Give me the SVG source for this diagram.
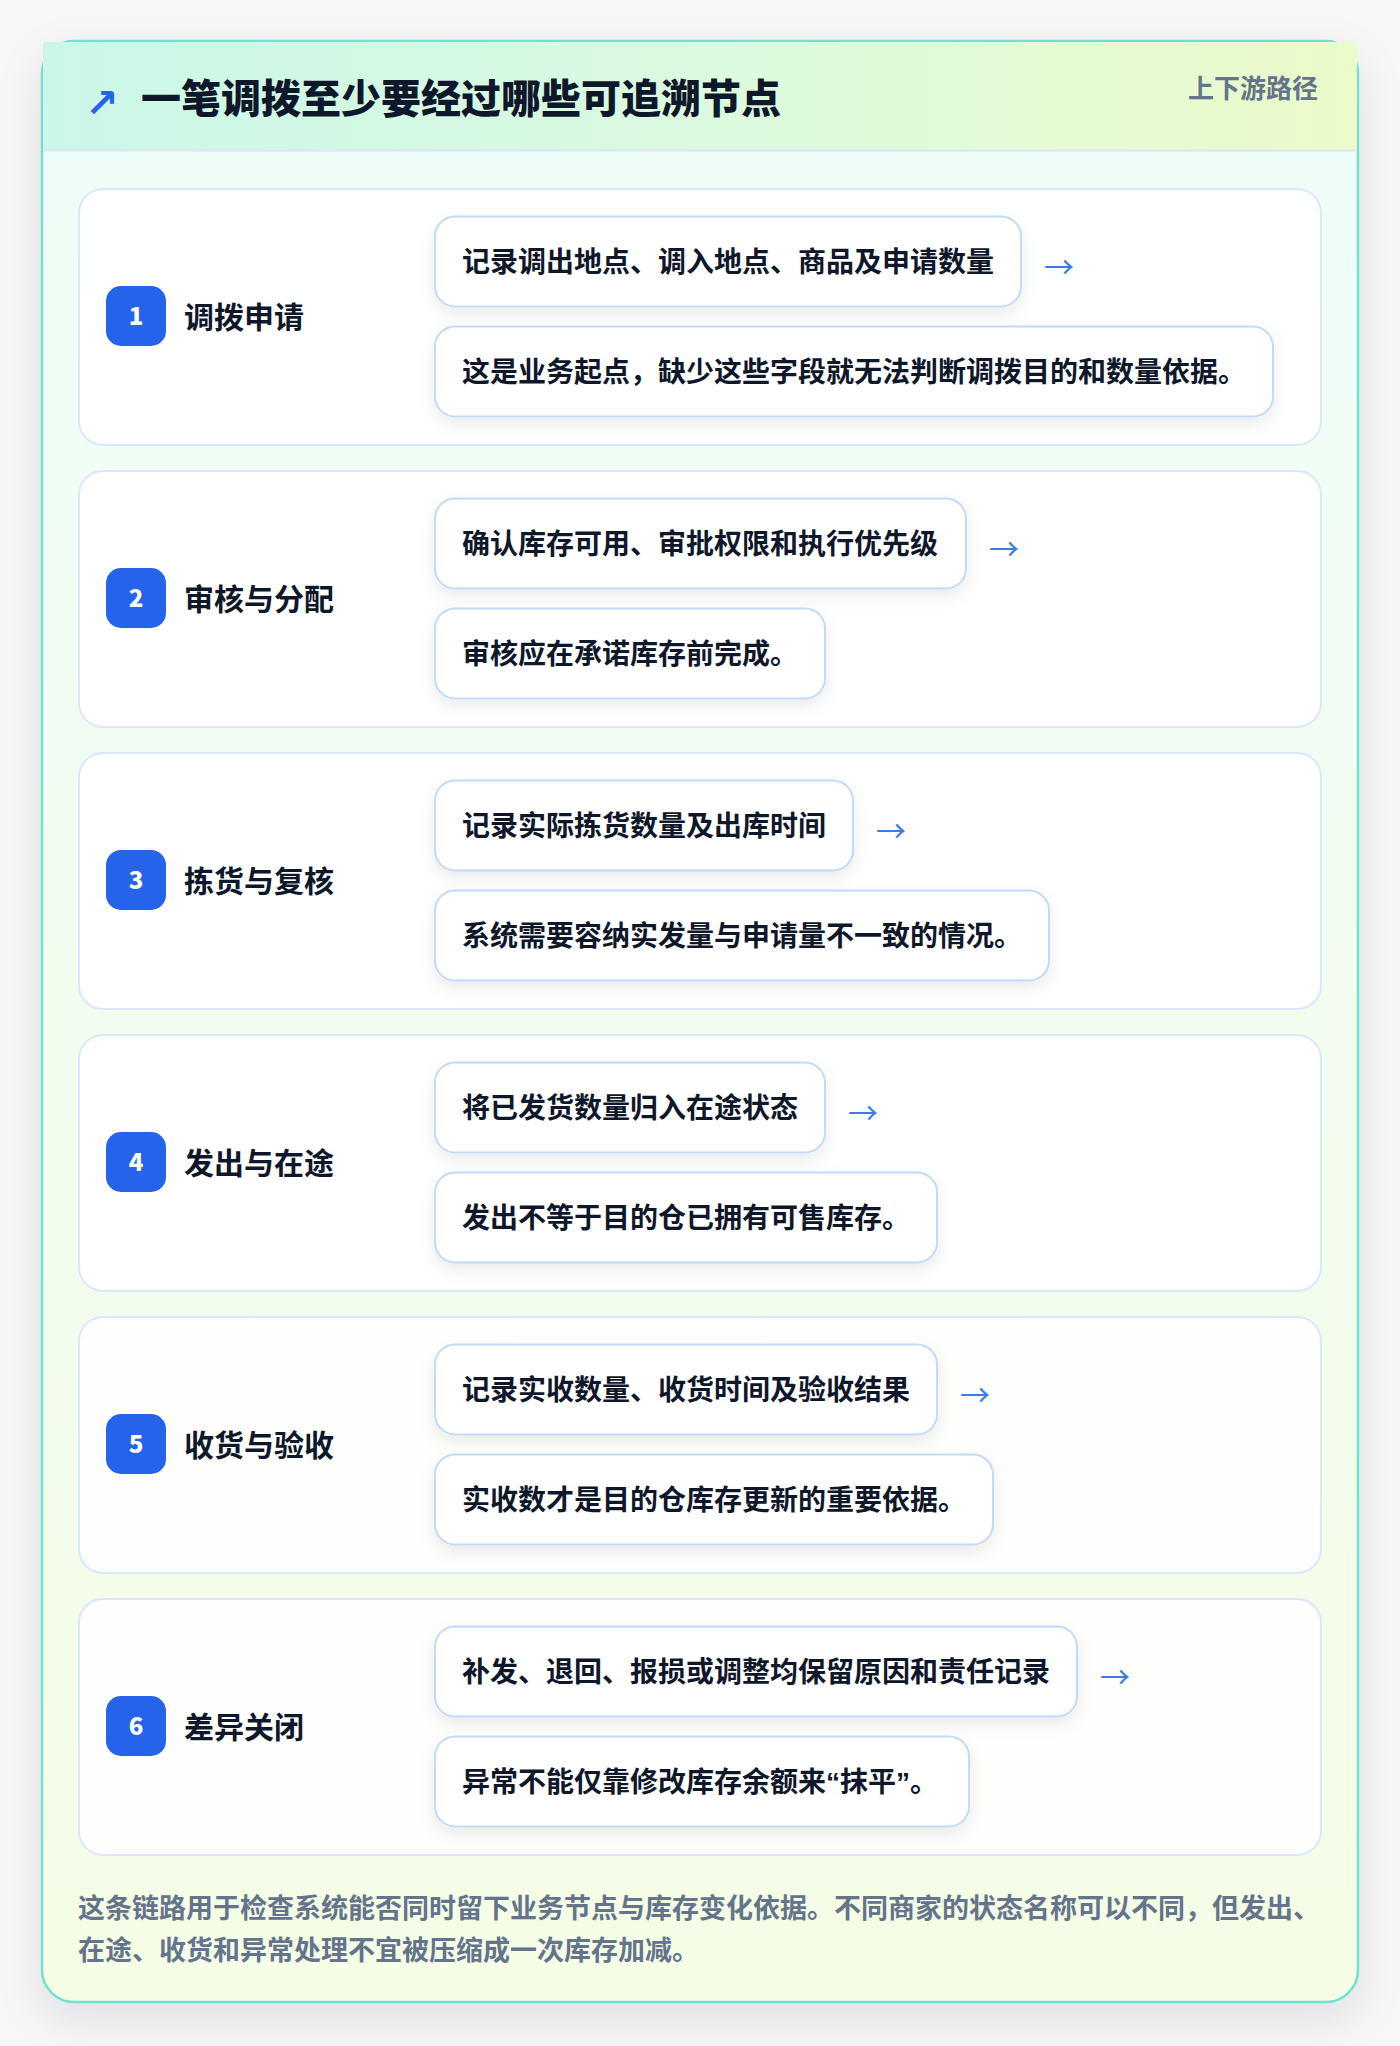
<svg xmlns="http://www.w3.org/2000/svg" width="1400" height="2046" viewBox="0 0 1400 2046">
<defs>
<linearGradient id="hdr" x1="0" y1="0" x2="1" y2="0">
<stop offset="0" stop-color="#cbf7e9"/>
<stop offset="0.5" stop-color="#dbfadf"/>
<stop offset="1" stop-color="#ebfbca"/>
</linearGradient>
<linearGradient id="body" x1="0" y1="0" x2="0" y2="1">
<stop offset="0" stop-color="#effdf9"/>
<stop offset="1" stop-color="#f5fde6"/>
</linearGradient>
<filter id="cardShadow" x="-10%" y="-10%" width="120%" height="120%">
<feDropShadow dx="0" dy="16" stdDeviation="22" flood-color="#0f172a" flood-opacity="0.10"/>
</filter>
<filter id="pillShadow" x="-10%" y="-30%" width="120%" height="170%">
<feDropShadow dx="0" dy="7" stdDeviation="8" flood-color="#0f172a" flood-opacity="0.08"/>
</filter>
</defs>
<style>
text{font-family:"Liberation Sans","Noto Sans CJK SC",sans-serif;font-weight:700}
.title{font-size:40px;fill:#0f172a;font-weight:800}
.tag{font-size:26px;fill:#64748b}
.row{fill:#ffffff;fill-opacity:0.9;stroke:#dbe7fb;stroke-width:2}
.badge{fill:#2563eb}
.num{font-size:24px;fill:#ffffff;text-anchor:middle;font-family:"Noto Sans CJK SC",sans-serif;font-weight:900}
.lbl{font-size:30px;fill:#0f172a}
.pill{fill:#ffffff;stroke:#c2d9f8;stroke-width:2;filter:url(#pillShadow)}
.pt{font-size:28px;fill:#0f172a}
.arr{font-size:30px;fill:#3b7be6;font-weight:400;font-family:"Noto Sans CJK SC",sans-serif}
.foot{font-size:27px;fill:#64748b}
</style>
<rect x="0" y="0" width="1400" height="2046" fill="#f7f7f8"/>
<g id="card">
<rect x="42" y="41" width="1316" height="1961" rx="32" fill="url(#body)" stroke="#6fe0cf" stroke-width="2.5" filter="url(#cardShadow)"/>
<rect x="43" y="42" width="1314" height="108" fill="url(#hdr)"/>
<line x1="43" y1="150.5" x2="1357" y2="150.5" stroke="#dce4f7" stroke-width="2"/>
<text x="85" y="117" style="font-size:40px;fill:#2563eb;font-family:'DejaVu Sans',sans-serif;font-weight:700">↗</text>
<text class="title" x="141" y="113">一笔调拨至少要经过哪些可追溯节点</text>
<text class="tag" x="1318" y="98" text-anchor="end">上下游路径</text>
</g>
<g id="node1">
<rect class="row" x="79" y="189" width="1242" height="256" rx="24"/>
<rect class="badge" x="106" y="286" width="60" height="60" rx="15"/>
<text class="num" x="136" y="325">1</text>
<text class="lbl" x="184" y="328">调拨申请</text>
<rect class="pill" x="435" y="216.5" width="586" height="90" rx="20"/>
<text class="pt" x="462" y="272">记录调出地点、调入地点、商品及申请数量</text>
<rect class="pill" x="435" y="326.5" width="838" height="90" rx="20"/>
<text class="pt" x="462" y="382">这是业务起点，缺少这些字段就无法判断调拨目的和数量依据。</text>
</g>
<g id="node2">
<rect class="row" x="79" y="471" width="1242" height="256" rx="24"/>
<rect class="badge" x="106" y="568" width="60" height="60" rx="15"/>
<text class="num" x="136" y="607">2</text>
<text class="lbl" x="184" y="610">审核与分配</text>
<rect class="pill" x="435" y="498.5" width="531" height="90" rx="20"/>
<text class="pt" x="462" y="554">确认库存可用、审批权限和执行优先级</text>
<rect class="pill" x="435" y="608.5" width="390" height="90" rx="20"/>
<text class="pt" x="462" y="664">审核应在承诺库存前完成。</text>
</g>
<g id="node3">
<rect class="row" x="79" y="753" width="1242" height="256" rx="24"/>
<rect class="badge" x="106" y="850" width="60" height="60" rx="15"/>
<text class="num" x="136" y="889">3</text>
<text class="lbl" x="184" y="892">拣货与复核</text>
<rect class="pill" x="435" y="780.5" width="418" height="90" rx="20"/>
<text class="pt" x="462" y="836">记录实际拣货数量及出库时间</text>
<rect class="pill" x="435" y="890.5" width="614" height="90" rx="20"/>
<text class="pt" x="462" y="946">系统需要容纳实发量与申请量不一致的情况。</text>
</g>
<g id="node4">
<rect class="row" x="79" y="1035" width="1242" height="256" rx="24"/>
<rect class="badge" x="106" y="1132" width="60" height="60" rx="15"/>
<text class="num" x="136" y="1171">4</text>
<text class="lbl" x="184" y="1174">发出与在途</text>
<rect class="pill" x="435" y="1062.5" width="390" height="90" rx="20"/>
<text class="pt" x="462" y="1118">将已发货数量归入在途状态</text>
<rect class="pill" x="435" y="1172.5" width="502" height="90" rx="20"/>
<text class="pt" x="462" y="1228">发出不等于目的仓已拥有可售库存。</text>
</g>
<g id="node5">
<rect class="row" x="79" y="1317" width="1242" height="256" rx="24"/>
<rect class="badge" x="106" y="1414" width="60" height="60" rx="15"/>
<text class="num" x="136" y="1453">5</text>
<text class="lbl" x="184" y="1456">收货与验收</text>
<rect class="pill" x="435" y="1344.5" width="502" height="90" rx="20"/>
<text class="pt" x="462" y="1400">记录实收数量、收货时间及验收结果</text>
<rect class="pill" x="435" y="1454.5" width="558" height="90" rx="20"/>
<text class="pt" x="462" y="1510">实收数才是目的仓库存更新的重要依据。</text>
</g>
<g id="node6">
<rect class="row" x="79" y="1599" width="1242" height="256" rx="24"/>
<rect class="badge" x="106" y="1696" width="60" height="60" rx="15"/>
<text class="num" x="136" y="1735">6</text>
<text class="lbl" x="184" y="1738">差异关闭</text>
<rect class="pill" x="435" y="1626.5" width="642" height="90" rx="20"/>
<text class="pt" x="462" y="1682">补发、退回、报损或调整均保留原因和责任记录</text>
<rect class="pill" x="435" y="1736.5" width="534" height="90" rx="20"/>
<text class="pt" x="462" y="1792">异常不能仅靠修改库存余额来“抹平”。</text>
</g>
<g id="connectors">
<text class="arr" x="1044" y="278">→</text>
<text class="arr" x="989" y="560">→</text>
<text class="arr" x="876" y="842">→</text>
<text class="arr" x="848" y="1124">→</text>
<text class="arr" x="960" y="1406">→</text>
<text class="arr" x="1100" y="1688">→</text>
</g>
<g id="footer">
<text class="foot" x="78" y="1918">这条链路用于检查系统能否同时留下业务节点与库存变化依据。不同商家的状态名称可以不同，但发出、</text>
<text class="foot" x="78" y="1960">在途、收货和异常处理不宜被压缩成一次库存加减。</text>
</g>
</svg>
